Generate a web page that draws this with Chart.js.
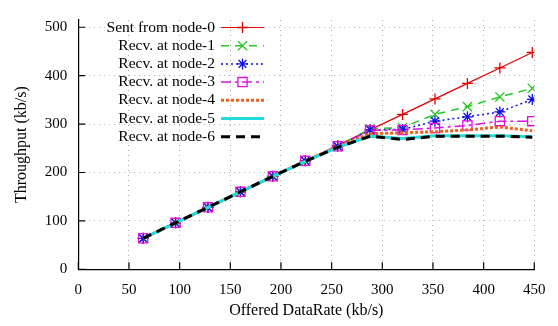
<!DOCTYPE html>
<html>
<head>
<meta charset="utf-8">
<script src="https://cdn.jsdelivr.net/npm/chart.js@4.4.0/dist/chart.umd.min.js"></script>
<style>
  html, body { margin: 0; padding: 0; background: #fff; }
</style>
</head>
<body>
<canvas id="throughputChart" width="558" height="326"></canvas>
<script>
// podaci (kb/s)
const offered = [64, 96, 128, 160, 192, 224, 256, 288, 320, 352, 384, 416, 448];
const sentNode0 = [64, 96, 128, 160, 192, 224, 256, 288, 320, 352, 384, 416, 448];
const recvNode1 = [64, 96, 128, 160, 192, 224, 254, 290, 293, 320, 336, 356, 374];
const recvNode2 = [64, 96, 128, 160, 192, 224, 254, 288, 289, 306, 315, 325, 351];
const recvNode3 = [64, 96, 128, 160, 192, 224, 254, 287, 288, 292, 297, 306, 306];
const recvNode4 = [64, 96, 128, 160, 192, 224, 253, 280, 282, 284, 288, 294, 286];
const recvNode5 = [64, 96, 128, 160, 192, 223, 252, 275, 270, 276, 276, 276, 274];
const recvNode6 = [64, 96, 128, 160, 192, 223, 252, 275, 268, 275, 275, 275, 273];
const seriesLabels = ['Sent from node-0', 'Recv. at node-1', 'Recv. at node-2', 'Recv. at node-3',
  'Recv. at node-4', 'Recv. at node-5', 'Recv. at node-6'];
const xTicks = [0, 50, 100, 150, 200, 250, 300, 350, 400, 450];
const yTicks = [0, 100, 200, 300, 400, 500];

const serif = '"Liberation Serif", "Times New Roman", serif';
const toPoints = arr => arr.map((v, i) => ({ x: offered[i], y: v }));

const styles = [
  { color: '#e00000', width: 1.2, dash: [], point: 'cross', r: 5.5 },
  { color: '#20c820', width: 1.5, dash: [8, 6], point: 'crossRot', r: 6.5 },
  { color: '#1010e8', width: 1.5, dash: [2, 3], point: 'star', r: 5.5 },
  { color: '#e010e0', width: 1.5, dash: [10, 4, 3, 4], point: 'rect', r: 6.5 },
  { color: '#f06020', width: 3, dash: [3, 2], point: false, r: 0 },
  { color: '#20dcdc', width: 3, dash: [], point: false, r: 0 },
  { color: '#000000', width: 3, dash: [9, 6], point: false, r: 0 }
];
const allSeries = [sentNode0, recvNode1, recvNode2, recvNode3, recvNode4, recvNode5, recvNode6];

const datasets = allSeries.map((arr, i) => ({
  label: seriesLabels[i],
  data: toPoints(arr),
  borderColor: styles[i].color,
  backgroundColor: 'transparent',
  borderWidth: styles[i].width,
  borderDash: styles[i].dash,
  pointStyle: styles[i].point,
  pointRadius: styles[i].r,
  pointBorderColor: styles[i].color,
  pointBackgroundColor: 'transparent',
  pointBorderWidth: 1.3,
  tension: 0,
  order: allSeries.length - i
}));

// legenda unutar grafa (tekst desno poravnat, uzorak linije desno)
const insideLegend = {
  id: 'insideLegend',
  afterDraw(chart) {
    const ctx = chart.ctx;
    ctx.save();
    ctx.font = '15.5px ' + serif;
    ctx.textAlign = 'right';
    ctx.textBaseline = 'middle';
    chart.data.datasets.forEach((ds, i) => {
      const y = 27.5 + i * 18.2;
      ctx.fillStyle = '#000';
      ctx.fillText(ds.label, 215, y);
      ctx.strokeStyle = ds.borderColor;
      ctx.lineWidth = ds.borderWidth;
      ctx.setLineDash(ds.borderDash);
      ctx.beginPath();
      ctx.moveTo(221, y);
      ctx.lineTo(264, y);
      ctx.stroke();
      ctx.setLineDash([]);
      if (ds.pointStyle) {
        ctx.fillStyle = 'transparent';
        ctx.lineWidth = ds.pointBorderWidth;
        Chart.helpers.drawPoint(ctx, { pointStyle: ds.pointStyle, radius: ds.pointRadius, rotation: 0, borderWidth: ds.pointBorderWidth }, 242.5, y);
      }
    });
    ctx.restore();
  }
};

// kratke oznake prema unutra
const innerTicks = {
  id: 'innerTicks',
  afterDatasetsDraw(chart) {
    const { ctx, chartArea, scales } = chart;
    ctx.save();
    ctx.strokeStyle = '#000';
    ctx.lineWidth = 1.2;
    ctx.beginPath();
    scales.x.ticks.forEach(t => {
      const px = scales.x.getPixelForValue(t.value);
      ctx.moveTo(px, chartArea.bottom);
      ctx.lineTo(px, chartArea.bottom - 7);
    });
    scales.y.ticks.forEach(t => {
      const py = scales.y.getPixelForValue(t.value);
      ctx.moveTo(chartArea.left, py);
      ctx.lineTo(chartArea.left + 7, py);
    });
    ctx.stroke();
    ctx.restore();
  }
};

const ctx = document.getElementById('throughputChart').getContext('2d');
const throughputChart = new Chart(ctx, {
  type: 'line',
  data: { datasets: datasets },
  plugins: [innerTicks, insideLegend],
  options: {
    responsive: false,
    animation: false,
    layout: { padding: { left: 0, right: 23.7, top: 15.3, bottom: 0 } },
    plugins: { legend: { display: false }, tooltip: { enabled: false } },
    scales: {
      x: {
        type: 'linear',
        min: 0,
        max: 450,
        afterBuildTicks: s => { s.ticks = xTicks.map(v => ({ value: v })); },
        afterFit: s => { s.height = 56.7; },
        grid: { color: '#ababab', lineWidth: 1, drawTicks: false },
        border: { display: true, color: '#000', width: 1.2, dash: [1, 4] },
        ticks: { color: '#000', font: { family: serif, size: 15 }, padding: 12, maxRotation: 0 },
        title: { display: true, text: 'Offered DataRate (kb/s)', color: '#000', font: { family: serif, size: 16 }, padding: { top: 0, bottom: 6 } }
      },
      y: {
        type: 'linear',
        min: 0,
        max: 515,
        afterBuildTicks: s => { s.ticks = yTicks.map(v => ({ value: v })); },
        afterFit: s => { s.width = 78.3; },
        grid: { color: '#ababab', lineWidth: 1, drawTicks: false },
        border: { display: true, color: '#000', width: 1.2, dash: [1, 4] },
        ticks: { color: '#000', font: { family: serif, size: 15 }, padding: 11 },
        title: { display: true, text: 'Throughput (kb/s)', color: '#000', font: { family: serif, size: 16 }, padding: { top: 12, bottom: 0 } }
      }
    }
  }
});
</script>
</body>
</html>
